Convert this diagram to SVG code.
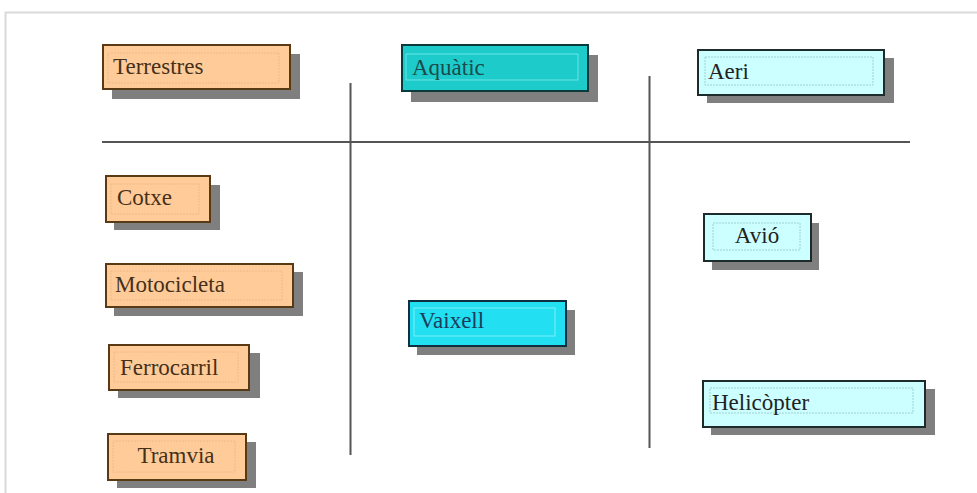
<svg xmlns="http://www.w3.org/2000/svg" width="977" height="493" viewBox="0 0 977 493">
<style>
.shadow{fill:#7f7f7f}
.t{font-family:"Liberation Serif","Times New Roman",serif;font-size:23px}
.land .box{fill:#FFCC99;stroke:#5a3a14;stroke-width:2}
.land .in{fill:none;stroke:#f0b888;stroke-width:1;stroke-dasharray:2 1}
.land text{fill:#45301a}
.aqua .box{fill:#1ECBCB;stroke:#0c3a3a;stroke-width:2}
.aqua .in{fill:none;stroke:#6be4e4;stroke-width:1}
.aqua text{fill:#1b4b4b}
.boat .box{fill:#22E0F2;stroke:#0c3040;stroke-width:2}
.boat .in{fill:none;stroke:#7aeef8;stroke-width:1}
.boat text{fill:#1a3d5c}
.air .box{fill:#CCFFFF;stroke:#1d2b2b;stroke-width:2}
.air .in{fill:none;stroke:#9fd0d0;stroke-width:1;stroke-dasharray:2 1}
.air text{fill:#222}
.rule{stroke:#555;stroke-width:2;fill:none}
</style>
<rect width="977" height="493" fill="#fff"/>
<path d="M5.5,493 V12.5 H977" fill="none" stroke="#d9d9d9" stroke-width="2"/>
<g id="connectors">
<line class="rule" x1="102" y1="142" x2="910" y2="142"/>
<line class="rule" x1="350.5" y1="83" x2="350.5" y2="455"/>
<line class="rule" x1="649.5" y1="76" x2="649.5" y2="448"/>
</g>
<g id="terrestres" class="land">
<rect class="shadow" x="112" y="54" width="188" height="45"/>
<rect class="box" x="103" y="45" width="187" height="44"/>
<rect class="in" x="108" y="53" width="171" height="30"/>
<text class="t" x="113" y="74">Terrestres</text>
</g>
<g id="aquatic" class="aqua">
<rect class="shadow" x="411" y="55" width="187" height="47"/>
<rect class="box" x="402" y="45" width="186" height="46"/>
<rect class="in" x="406" y="54" width="172" height="26"/>
<text class="t" x="412" y="75">Aquàtic</text>
</g>
<g id="aeri" class="air">
<rect class="shadow" x="707" y="58" width="187" height="45"/>
<rect class="box" x="698" y="50" width="186" height="45"/>
<rect class="in" x="705" y="57" width="168" height="28"/>
<text class="t" x="708" y="79">Aeri</text>
</g>
<g id="cotxe" class="land">
<rect class="shadow" x="114" y="185" width="106" height="45"/>
<rect class="box" x="106" y="176" width="104" height="46"/>
<rect class="in" x="111" y="184" width="88" height="30"/>
<text class="t" x="117" y="205">Cotxe</text>
</g>
<g id="motocicleta" class="land">
<rect class="shadow" x="114" y="272" width="189" height="44"/>
<rect class="box" x="106" y="264" width="187" height="43"/>
<rect class="in" x="111" y="271" width="171" height="29"/>
<text class="t" x="115" y="292">Motocicleta</text>
</g>
<g id="ferrocarril" class="land">
<rect class="shadow" x="118" y="353" width="142" height="45"/>
<rect class="box" x="109" y="345" width="140" height="45"/>
<rect class="in" x="114" y="352" width="124" height="30"/>
<text class="t" x="120" y="375">Ferrocarril</text>
</g>
<g id="tramvia" class="land">
<rect class="shadow" x="117" y="442" width="139" height="46"/>
<rect class="box" x="108" y="434" width="138" height="46"/>
<rect class="in" x="113" y="441" width="122" height="31"/>
<text class="t" x="176" y="463" text-anchor="middle">Tramvia</text>
</g>
<g id="vaixell" class="boat">
<rect class="shadow" x="417" y="310" width="158" height="45"/>
<rect class="box" x="409" y="301" width="157" height="45"/>
<rect class="in" x="414" y="308" width="141" height="28"/>
<text class="t" x="419" y="328">Vaixell</text>
</g>
<g id="avio" class="air">
<rect class="shadow" x="712" y="223" width="107" height="47"/>
<rect class="box" x="704" y="214" width="107" height="47"/>
<rect class="in" x="713" y="223" width="87" height="27"/>
<text class="t" x="757" y="243" text-anchor="middle">Avió</text>
</g>
<g id="helicopter" class="air">
<rect class="shadow" x="711" y="389" width="224" height="46"/>
<rect class="box" x="703" y="381" width="222" height="46"/>
<rect class="in" x="710" y="388" width="203" height="25"/>
<text class="t" x="712" y="410">Helicòpter</text>
</g>
</svg>
